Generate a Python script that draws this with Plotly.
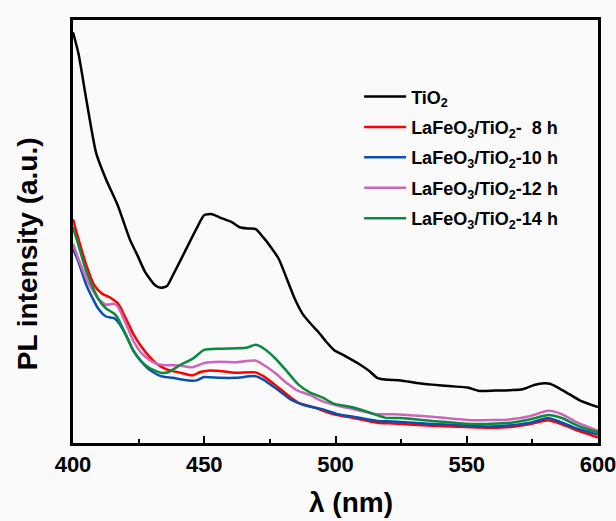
import plotly.graph_objects as go

# Wavelength (nm) and PL intensity (a.u., % of plot height)
wl_tio2 = [400, 402.1, 405.1, 408.8, 412.6, 417.1, 421.6, 424.6, 427.5, 431.3, 433.5, 435.8,
           438.0, 442.5, 447.0, 450.0, 453.0, 456.0, 460.5, 463.5, 466.5, 469.5, 472.5, 475.4,
           478.4, 481.4, 484.4, 487.4, 490.4, 493.4, 496.4, 499.4, 503.9, 508.4, 512.9, 515.9,
           518.9, 524.9, 530.8, 536.8, 544.3, 550.3, 554.8, 560.8, 566.8, 571.3, 575.7, 579.5,
           581.7, 584.7, 589.2, 593.7, 600]
pl_tio2 = [97.1, 92.0, 81.1, 68.6, 62.3, 56.1, 48.2, 44.3, 40.4, 37.3, 36.7, 37.1,
           39.6, 45.1, 50.6, 53.9, 54.1, 53.3, 52.2, 51.0, 50.7, 50.6, 48.6, 46.3,
           43.5, 38.9, 34.2, 30.6, 28.3, 26.3, 24.0, 22.0, 20.5, 18.9, 17.0, 15.4,
           15.0, 14.8, 14.2, 13.8, 13.4, 13.1, 12.3, 12.4, 12.5, 12.7, 13.7, 14.1,
           14.0, 13.1, 11.5, 9.9, 8.5]

wl_8h = [400, 402.1, 405.1, 408.1, 411.1, 414.1, 417.1, 420.1, 423.1, 426.0, 429.0, 432.0,
         435.0, 438.0, 441.0, 445.5, 448.5, 451.5, 456.0, 462.0, 469.5, 472.5, 476.9, 481.4,
         485.9, 491.9, 499.4, 506.9, 515.9, 521.9, 536.8, 551.8, 559.3, 566.8, 574.3, 581.0,
         584.7, 590.7, 600]
pl_8h = [52.9, 48.2, 42.0, 37.3, 35.3, 34.4, 33.0, 29.5, 25.6, 22.8, 20.5, 18.7,
         17.6, 17.0, 16.6, 16.0, 16.8, 17.1, 17.0, 16.6, 16.7, 15.8, 13.8, 11.5,
         9.5, 8.4, 6.8, 5.9, 4.8, 4.6, 4.1, 3.7, 3.6, 3.8, 4.5, 5.4,
         4.8, 3.3, 1.3]

wl_10h = [400, 402.1, 405.1, 409.6, 412.6, 415.6, 417.1, 420.1, 423.1, 426.0, 429.0, 433.5,
          438.0, 444.0, 447.0, 450.0, 456.0, 462.0, 469.5, 472.5, 476.9, 482.9, 488.9, 494.9,
          500.9, 506.9, 515.9, 521.9, 536.8, 551.8, 559.3, 566.8, 574.3, 581.0, 584.7, 590.7,
          600]
pl_10h = [45.9, 42.8, 37.3, 31.8, 29.9, 29.5, 28.7, 25.6, 21.7, 19.3, 17.4, 15.8,
          15.4, 14.8, 14.8, 15.6, 15.4, 15.4, 15.8, 15.0, 13.1, 10.3, 8.8, 8.0,
          6.8, 6.2, 5.2, 5.1, 4.5, 4.1, 3.9, 4.2, 4.8, 5.9, 5.2, 3.7,
          2.0]

wl_12h = [400, 402.1, 405.1, 409.6, 412.6, 415.6, 417.1, 420.1, 423.1, 426.0, 429.0, 432.0,
          435.0, 439.5, 445.5, 450.0, 456.0, 462.0, 469.5, 472.5, 476.9, 481.4, 485.9, 490.4,
          494.9, 500.9, 506.9, 515.9, 521.9, 536.8, 551.8, 566.8, 574.3, 581.0, 586.2, 592.2,
          600]
pl_12h = [47.1, 43.5, 38.8, 34.1, 32.7, 32.9, 32.2, 28.3, 24.0, 21.3, 19.7, 18.7,
          18.4, 18.4, 17.9, 18.9, 19.2, 19.1, 19.5, 18.5, 16.6, 14.2, 12.3, 11.3,
          9.9, 8.8, 8.0, 6.8, 6.8, 6.2, 5.4, 5.6, 6.4, 7.6, 6.8, 4.8,
          2.9]

wl_14h = [400, 402.1, 405.1, 409.6, 412.6, 415.6, 417.1, 420.1, 423.1, 426.0, 429.0, 433.5,
          436.5, 441.0, 445.5, 450.0, 456.0, 462.0, 466.5, 469.5, 472.5, 476.9, 481.4, 485.9,
          490.4, 494.9, 499.4, 506.9, 512.9, 518.9, 524.9, 536.8, 551.8, 566.8, 574.3, 581.0,
          586.2, 592.2, 600]
pl_14h = [51.0, 46.7, 40.5, 34.1, 31.8, 30.6, 29.5, 25.6, 21.7, 19.3, 17.8, 16.6,
          16.8, 18.5, 19.9, 22.0, 22.3, 22.4, 22.6, 23.2, 22.4, 20.1, 17.0, 13.8,
          11.9, 10.8, 9.3, 8.4, 7.2, 6.0, 5.9, 5.2, 4.5, 4.8, 5.6, 6.6,
          5.9, 4.1, 2.5]

names = ["<b>TiO<sub>2</sub></b>",
         "<b>LaFeO<sub>3</sub>/TiO<sub>2</sub>-  8 h</b>",
         "<b>LaFeO<sub>3</sub>/TiO<sub>2</sub>-10 h</b>",
         "<b>LaFeO<sub>3</sub>/TiO<sub>2</sub>-12 h</b>",
         "<b>LaFeO<sub>3</sub>/TiO<sub>2</sub>-14 h</b>"]
colors = ["#000000", "#ff0000", "#0a4fb0", "#cc66bb", "#0a8a3c"]
xs = [wl_tio2, wl_8h, wl_10h, wl_12h, wl_14h]
ys = [pl_tio2, pl_8h, pl_10h, pl_12h, pl_14h]

FONT = "Liberation Sans, Arial, sans-serif"

fig = go.Figure()
for i, (x, y, n, c) in enumerate(zip(xs, ys, names, colors)):
    fig.add_trace(go.Scatter(x=x, y=y, mode="lines", name=n, legendgroup=f"g{i}",
                             line=dict(color=c, width=2.5, shape="spline", smoothing=0.6)))

fig.update_layout(
    width=616, height=521,
    margin=dict(l=73, r=18, t=20, b=78, autoexpand=False),
    paper_bgcolor="#fafafa", plot_bgcolor="#fafafa",
    font=dict(family=FONT, color="black"),
    showlegend=True,
    legend=dict(x=0.545, y=0.862, xanchor="left", yanchor="top",
                bgcolor="rgba(0,0,0,0)", font=dict(size=18, family=FONT, color="black"),
                itemwidth=42, tracegroupgap=4),
)
fig.update_xaxes(range=[400, 600], tickvals=[400, 450, 500, 550, 600],
                 ticktext=["<b>400</b>", "<b>450</b>", "<b>500</b>", "<b>550</b>", "<b>600</b>"],
                 ticks="inside", ticklen=7, tickwidth=2, tickcolor="black",
                 ticklabeloverflow="allow", automargin=False,
                 minor=dict(tickvals=[425, 475, 525, 575], ticks="inside", ticklen=4, tickwidth=2, tickcolor="black"),
                 showline=True, linewidth=2.5, linecolor="black", mirror=True,
                 showgrid=False, zeroline=False,
                 tickfont=dict(size=22, family=FONT, color="black"))
fig.update_yaxes(range=[0, 100], showticklabels=False, ticks="", automargin=False,
                 showline=True, linewidth=2.5, linecolor="black", mirror=True,
                 showgrid=False, zeroline=False)

fig.add_annotation(text="<b>PL intensity (a.u.)</b>", xref="paper", yref="paper",
                   x=-0.085, y=0.447, xanchor="center", yanchor="middle", textangle=-90,
                   showarrow=False, font=dict(size=28, family=FONT, color="black"))
fig.add_annotation(text="<b>λ (nm)</b>", xref="paper", yref="paper",
                   x=0.53, y=-0.14, xanchor="center", yanchor="middle",
                   showarrow=False, font=dict(size=28, family=FONT, color="black"))

fig.write_html("out.html")
